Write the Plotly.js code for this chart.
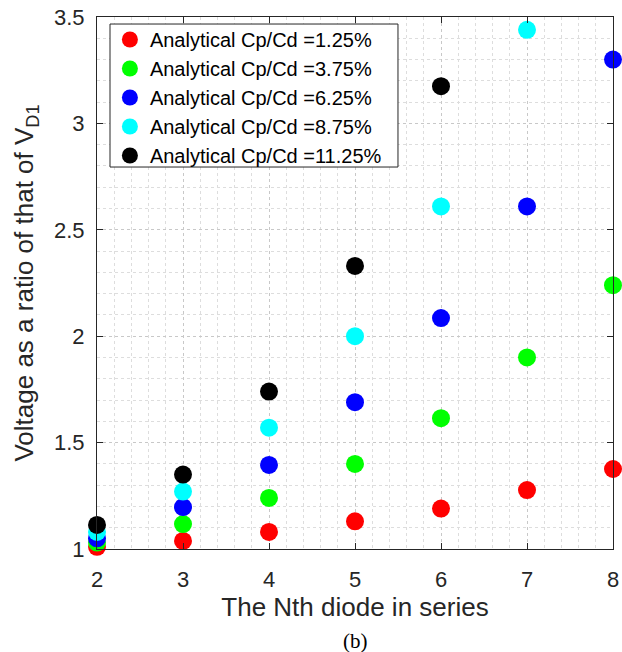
<!DOCTYPE html>
<html><head><meta charset="utf-8">
<script src="https://cdn.plot.ly/plotly-3.0.1.min.js"></script>
<style>body{margin:0;background:#fff}#c{width:622px;height:652px}</style>
</head><body><div id="c"></div>
<script>
const xs = [2,3,4,5,6,7,8];
const names = ["Analytical Cp/Cd =1.25%","Analytical Cp/Cd =3.75%","Analytical Cp/Cd =6.25%","Analytical Cp/Cd =8.75%","Analytical Cp/Cd =11.25%"];
const colors = ["#ff0000","#00ff00","#0000ff","#00ffff","#000000"];
const s1 = [1.01,1.038,1.08,1.13,1.19,1.277,1.376];
const s2 = [1.03,1.117,1.24,1.40,1.615,1.90,2.24];
const s3 = [1.05,1.197,1.395,1.69,2.085,2.61,3.30];
const s4 = [1.08,1.27,1.57,2.00,2.61,3.44];
const s5 = [1.113,1.35,1.74,2.33,3.175];
const series = [s1,s2,s3,s4,s5];
const traces = series.map((s,i)=>({
  x: xs.slice(0,s.length), y: s, name: names[i], type:'scatter', mode:'markers',
  marker:{color:colors[i], size:18}, cliponaxis:false
}));
const font = {family:'"Liberation Sans", Arial, Helvetica, sans-serif', color:'#262626'};
const layout = {
  width:622, height:652,
  margin:{l:97, r:9, t:17, b:103},
  paper_bgcolor:'#fff', plot_bgcolor:'#fff',
  font: Object.assign({size:22}, font),
  showlegend:true,
  legend:{x:0.025, y:0.9944, xanchor:'left', yanchor:'top', bgcolor:'rgba(0,0,0,0)',
    borderwidth:0, font:{size:20, color:'#000', family:font.family}},
  shapes:[{type:'rect', xref:'paper', yref:'paper', x0:0.0252, x1:0.5833, y0:0.718, y1:0.9868,
    line:{color:'#262626', width:1}, fillcolor:'#ffffff', layer:'above'}],
  xaxis:{range:[2,8], dtick:1, showline:true, linecolor:'#262626', linewidth:1, mirror:'ticks',
    ticks:'inside', ticklen:6, tickcolor:'#262626', zeroline:false,
    showgrid:true, gridcolor:'#c8c8c8', griddash:'dot', gridwidth:1,
    minor:{dtick:0.2, showgrid:true, gridcolor:'#dddddd', griddash:'dot', ticks:''},
    tickfont:{size:22}, ticklabelstandoff:11,
    title:{text:'The Nth diode in series', font:{size:26}, standoff:0}},
  yaxis:{range:[1,3.5], dtick:0.5, showline:true, linecolor:'#262626', linewidth:1, mirror:'ticks',
    ticks:'inside', ticklen:6, tickcolor:'#262626', zeroline:false,
    showgrid:true, gridcolor:'#c8c8c8', griddash:'dot', gridwidth:1,
    minor:{dtick:0.1, showgrid:true, gridcolor:'#dddddd', griddash:'dot', ticks:''},
    tickfont:{size:22}, ticklabelstandoff:7,
    title:{text:'Voltage as a ratio of that of V<sub>D1</sub>', font:{size:26}, standoff:12}},
  annotations:[{text:'(b)', xref:'paper', yref:'paper', x:0.5, y:-0.146, xanchor:'center', yanchor:'top',
    showarrow:false, font:{family:'"Liberation Serif", "Times New Roman", serif', size:21, color:'#000'}}]
};
Plotly.newPlot('c', traces, layout, {displayModeBar:false});
</script></body></html>
